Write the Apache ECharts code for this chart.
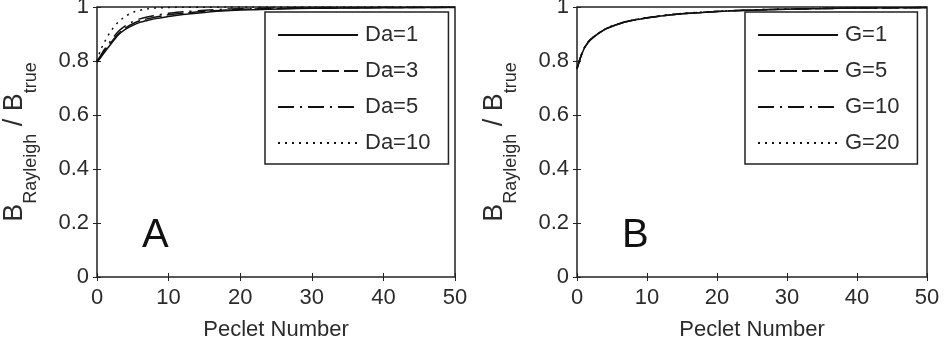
<!DOCTYPE html>
<html>
<head>
<meta charset="utf-8">
<script src="https://cdn.jsdelivr.net/npm/echarts@6/dist/echarts.min.js"></script>
<style>
html,body{margin:0;padding:0;background:#fff;}
#c{width:945px;height:339px;}
</style>
</head>
<body>
<div id="c"></div>
<script>
// Peclet numbers (x)
const peclet = [0, 0.5, 1, 1.5, 2, 3, 4, 5, 6, 7, 8, 10, 12, 15, 18, 22, 26, 30, 35, 40, 45, 50];
// Panel A: Damkohler numbers
const namesA = ['Da=1', 'Da=3', 'Da=5', 'Da=10'];
const da1  = [0.795,0.812,0.830,0.848,0.865,0.897,0.918,0.932,0.943,0.950,0.956,0.965,0.972,0.980,0.986,0.990,0.993,0.995,0.996,0.997,0.998,0.998];
const da3  = [0.797,0.815,0.835,0.853,0.870,0.902,0.923,0.938,0.949,0.956,0.962,0.971,0.977,0.984,0.989,0.993,0.995,0.996,0.997,0.998,0.998,0.999];
const da5  = [0.800,0.820,0.842,0.860,0.878,0.910,0.931,0.946,0.956,0.963,0.968,0.977,0.982,0.988,0.992,0.995,0.997,0.998,0.998,0.999,0.999,0.999];
const da10 = [0.800,0.840,0.868,0.892,0.913,0.945,0.966,0.980,0.988,0.993,0.996,0.998,0.999,0.999,1.000,1.000,1.000,1.000,1.000,1.000,1.000,1.000];
// Panel B: G values
const namesB = ['G=1', 'G=5', 'G=10', 'G=20'];
const g1  = [0.770,0.812,0.845,0.866,0.880,0.900,0.917,0.928,0.937,0.945,0.951,0.959,0.967,0.975,0.980,0.986,0.989,0.992,0.994,0.996,0.997,0.998];
const g5  = [0.771,0.813,0.846,0.866,0.881,0.901,0.917,0.929,0.937,0.945,0.951,0.960,0.967,0.975,0.980,0.986,0.989,0.992,0.994,0.996,0.997,0.998];
const g10 = [0.772,0.814,0.846,0.867,0.881,0.901,0.918,0.929,0.938,0.946,0.952,0.960,0.967,0.975,0.981,0.986,0.990,0.992,0.994,0.996,0.997,0.998];
const g20 = [0.773,0.815,0.847,0.868,0.882,0.902,0.918,0.930,0.938,0.946,0.952,0.960,0.968,0.976,0.981,0.986,0.990,0.992,0.995,0.996,0.997,0.998];
// Axis ticks
const xTicks = {min: 0, max: 50, interval: 10};
const yTicks = {min: 0, max: 1, interval: 0.2};

const FONT = 'Liberation Sans';
const TXT = '#2b2b2b';
const lineTypes = ['solid', [17, 5], [16, 6, 2, 6], [2, 5]];

const grids = [
  {left: 97, top: 7, width: 358, height: 270},
  {left: 577, top: 7, width: 350, height: 270}
];

function pairs(ys) { return peclet.map((x, i) => [x, ys[i]]); }

const xAxes = [], yAxes = [];
[0, 1].forEach(g => {
  xAxes.push({
    type: 'value', gridIndex: g, min: xTicks.min, max: xTicks.max, interval: xTicks.interval,
    position: 'bottom',
    axisLine: {show: false}, splitLine: {show: false},
    axisTick: {inside: true, length: 4, lineStyle: {color: '#222', width: 1}},
    axisLabel: {margin: 10, color: TXT, fontFamily: FONT, fontSize: 22},
    name: 'Peclet Number', nameLocation: 'middle', nameGap: 42,
    nameTextStyle: {color: TXT, fontFamily: FONT, fontSize: 22}
  });
  xAxes.push({
    type: 'value', gridIndex: g, min: xTicks.min, max: xTicks.max, interval: xTicks.interval,
    position: 'top',
    axisLine: {show: false}, splitLine: {show: false},
    axisTick: {inside: true, length: 4, lineStyle: {color: '#222', width: 1}},
    axisLabel: {show: false}
  });
  yAxes.push({
    type: 'value', gridIndex: g, min: yTicks.min, max: yTicks.max, interval: yTicks.interval,
    position: 'left',
    axisLine: {show: false}, splitLine: {show: false},
    axisTick: {inside: true, length: 4, lineStyle: {color: '#222', width: 1}},
    axisLabel: {margin: 8, color: TXT, fontFamily: FONT, fontSize: 22},
    name: '{b|B}{s|Rayleigh}{b| / B}{s|true}',
    nameLocation: 'middle', nameRotate: 90, nameGap: 57,
    nameTextStyle: {
      color: TXT, fontFamily: FONT,
      rich: {
        b: {fontSize: 27, fontFamily: FONT, color: TXT, verticalAlign: 'top', lineHeight: 27},
        s: {fontSize: 18, fontFamily: FONT, color: TXT, verticalAlign: 'bottom', lineHeight: 39}
      }
    }
  });
  yAxes.push({
    type: 'value', gridIndex: g, min: yTicks.min, max: yTicks.max, interval: yTicks.interval,
    position: 'right',
    axisLine: {show: false}, splitLine: {show: false},
    axisTick: {inside: true, length: 4, lineStyle: {color: '#222', width: 1}},
    axisLabel: {show: false}
  });
});

const series = [];
[da1, da3, da5, da10].forEach((ys, i) => {
  series.push({
    name: namesA[i], type: 'line', xAxisIndex: 0, yAxisIndex: 0,
    data: pairs(ys), symbol: 'none', smooth: 0.3,
    lineStyle: {color: '#111', width: 1.5, type: lineTypes[i]},
    itemStyle: {color: '#111'}
  });
});
[g1, g5, g10, g20].forEach((ys, i) => {
  series.push({
    name: namesB[i], type: 'line', xAxisIndex: 2, yAxisIndex: 2,
    data: pairs(ys), symbol: 'none', smooth: 0.3,
    lineStyle: {color: '#111', width: 1.5, type: lineTypes[i]},
    itemStyle: {color: '#111'}
  });
});

function legendFor(names, left) {
  return {
    data: names, orient: 'vertical', left: left, top: 12,
    itemWidth: 80, itemHeight: 14, itemGap: 12,
    padding: [11, 18, 9, 12],
    backgroundColor: '#fff', borderColor: '#222', borderWidth: 1.5,
    selectedMode: false,
    itemStyle: {opacity: 0, borderWidth: 0},
    textStyle: {color: TXT, fontFamily: FONT, fontSize: 22, lineHeight: 24, padding: [0, 0, 0, 2]}
  };
}

const chart = echarts.init(document.getElementById('c'), null, {renderer: 'canvas'});
chart.setOption({
  backgroundColor: '#fff',
  animation: false,
  grid: grids.map(g => Object.assign({
    show: true, borderColor: '#222', borderWidth: 1.5, backgroundColor: 'transparent',
    containLabel: false, outerBoundsMode: 'none'
  }, g)),
  xAxis: xAxes,
  yAxis: yAxes,
  legend: [legendFor(namesA, 265), legendFor(namesB, 745)],
  graphic: [
    {type: 'text', left: 142, top: 216, style: {text: 'A', fontFamily: FONT, fontSize: 40, fill: '#111'}},
    {type: 'text', left: 622, top: 216, style: {text: 'B', fontFamily: FONT, fontSize: 40, fill: '#111'}}
  ],
  series: series
});
</script>
</body>
</html>
